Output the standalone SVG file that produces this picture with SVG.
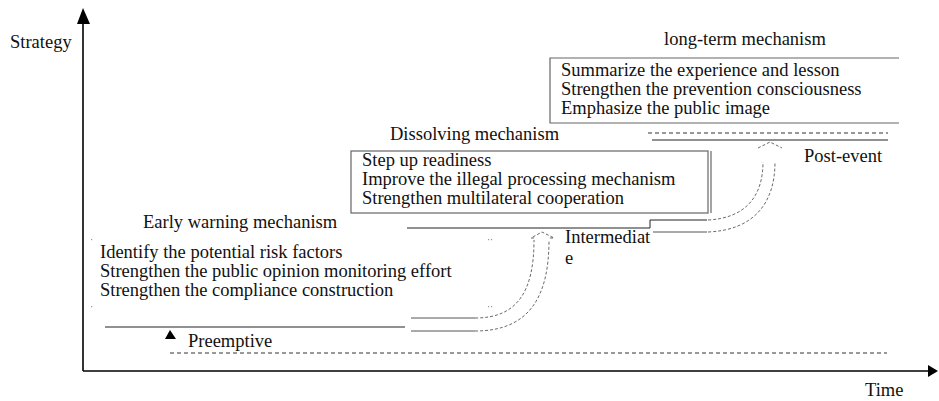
<svg xmlns="http://www.w3.org/2000/svg" width="939" height="401" viewBox="0 0 939 401">
<style>
text{font-family:"Liberation Serif","Times New Roman",serif;font-size:18.5px;fill:#111}
.ln{stroke:#222;stroke-width:1;fill:none}
.gl{stroke:#555;stroke-width:1;fill:none}
.box{stroke:#666;stroke-width:1.2;fill:none}
.dsh{stroke:#333;stroke-width:1;fill:none;stroke-dasharray:4 3}
.cv{stroke:#444;stroke-width:0.8;fill:none;stroke-dasharray:3 2}
.ax{stroke:#000;stroke-width:1.6;fill:none}
.dot{fill:#999}
</style>
<rect width="939" height="401" fill="#fff"/>
<g id="axes">
<path class="ax" d="M83,371 V22"/>
<path d="M83,8 L77,24 L90,24 Z" fill="#000"/>
<path class="ax" d="M83,371 H929"/>
<path d="M938,371 L928,365 L928,377 Z" fill="#000"/>
<text x="10" y="48">Strategy</text>
<text x="865" y="396">Time</text>
</g>
<g id="long-term">
<text x="664" y="45">long-term mechanism</text>
<path class="box" d="M899,58 H550 V123 H899"/>
<text x="561" y="75.5">Summarize the experience and lesson</text>
<text x="561" y="94.5">Strengthen the prevention consciousness</text>
<text x="561" y="113.5">Emphasize the public image</text>
</g>
<g id="dissolving">
<text x="390" y="140">Dissolving mechanism</text>
<rect class="box" x="351" y="151" width="357" height="62"/>
<path class="box" d="M711,151 V213"/>
<text x="362" y="166">Step up readiness</text>
<text x="362" y="185">Improve the illegal processing mechanism</text>
<text x="362" y="204">Strengthen multilateral cooperation</text>
</g>
<g id="early-warning">
<text x="143" y="228">Early warning mechanism</text>
<text x="100" y="258">Identify the potential risk factors</text>
<text x="100" y="277">Strengthen the public opinion monitoring effort</text>
<text x="100" y="296">Strengthen the compliance construction</text>
<rect class="dot" x="91" y="239" width="1.2" height="1.2"/>
<rect class="dot" x="91" y="306" width="1.2" height="1.2"/>
<rect class="dot" x="488" y="239" width="1.2" height="1.2"/>
<rect class="dot" x="491" y="239" width="1.2" height="1.2"/>
<rect class="dot" x="488" y="306" width="1.2" height="1.2"/>
<rect class="dot" x="491" y="306" width="1.2" height="1.2"/>
</g>
<g id="preemptive">
<path d="M170,330 L165,339 L176,339 Z" fill="#000"/>
<text x="188" y="347">Preemptive</text>
</g>
<g id="intermediate">
<text x="565" y="243">Intermediat</text>
<text x="565" y="264">e</text>
</g>
<g id="post-event">
<text x="804" y="162">Post-event</text>
</g>
<g id="connectors">
<path class="ln" d="M105,327 H405"/>
<path class="gl" d="M411,318 H475"/>
<path class="gl" d="M411,331 H475"/>
<path class="cv" d="M475,318 C517,318 534,292 534,240"/>
<path class="cv" d="M475,331 C530,331 549,296 549,240"/>
<path class="cv" d="M534,238 L531,238 L542,232 L554,238 L549,238"/>
<path class="ln" d="M407,228 H650 V220 H707"/>
<path class="gl" d="M653,232 H707"/>
<path class="cv" d="M708,220 C746,218 763,196 763,162"/>
<path class="cv" d="M708,232 C755,230 775,202 775,162"/>
<path class="cv" d="M758,148 L770,142 L782,148"/>
<path class="dsh" d="M648,133 H888"/>
<path class="ln" d="M652,140 H888"/>
<path class="dsh" d="M170,353 H887"/>
</g>
</svg>
